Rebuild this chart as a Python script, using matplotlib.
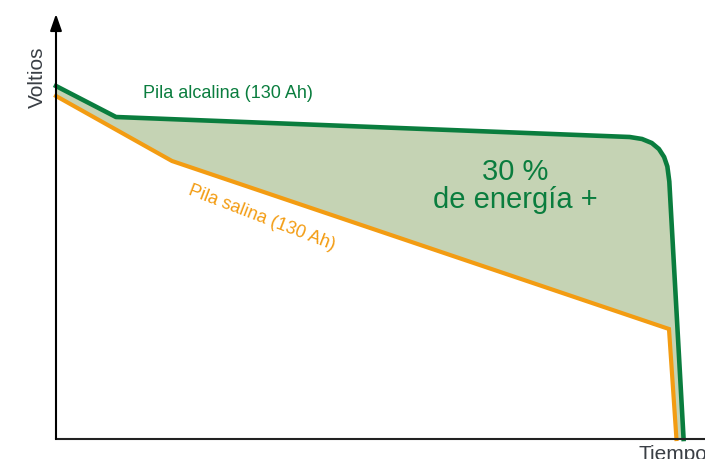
import matplotlib
matplotlib.use("Agg")
import matplotlib.pyplot as plt

# Data (time in arbitrary units, voltage in arbitrary units)
alk_t = [0.0, 9.24, 88.4, 90.3, 91.8, 92.9, 93.7, 94.2, 94.5, 96.7]
alk_v = [1.412, 1.288, 1.208, 1.200, 1.184, 1.160, 1.128, 1.090, 1.030, 0.0]
sal_t = [0.0, 17.87, 94.45, 95.6]
sal_v = [1.372, 1.112, 0.44, 0.0]

GREEN = "#0a7d3e"
ORANGE = "#f39c12"
FILL = "#c5d3b4"
FONT = ["Liberation Sans", "DejaVu Sans"]

fig = plt.figure(figsize=(7.05, 4.6), dpi=100)
ax = fig.add_axes([0, 0, 1, 1])
ax.set_xlim(-56 / 6.49, 649 / 6.49)
ax.set_ylim(-20 / 250, 440 / 250)
ax.axis("off")

# filled area between curves
poly_t = alk_t + sal_t[::-1]
poly_v = alk_v + sal_v[::-1]
ax.fill(poly_t, poly_v, color=FILL, lw=0, zorder=1)

ax.plot(sal_t, sal_v, color=ORANGE, lw=3, solid_joinstyle="miter", zorder=3)
ax.plot(alk_t, alk_v, color=GREEN, lw=3.3, solid_joinstyle="round", zorder=4)

# axes
ax.plot([0, 110], [0, 0], color="#222222", lw=1.5, zorder=5, clip_on=False)
ax.annotate("", xy=(0, 1.70), xytext=(0, 0),
            arrowprops=dict(arrowstyle="-|>,head_width=0.35,head_length=1.0",
                            color="black", lw=1.5, shrinkA=0, shrinkB=0), zorder=5)

ax.text(-2.9, 1.45, "Voltios", rotation=90, ha="center", va="center",
        fontsize=15, color="#3a3f45", family=FONT)
ax.text(89.8, -0.058, "Tiempo", ha="left", va="center",
        fontsize=15, color="#3a3f45", family=FONT)

ax.text(13.4, 1.388, "Pila alcalina (130 Ah)", ha="left", va="center",
        fontsize=13, color=GREEN, family=FONT)
ax.text(31.7, 0.89, "Pila salina (130 Ah)", ha="center", va="center",
        rotation=-21, fontsize=13, color=ORANGE, family=FONT)

ax.text(70.8, 1.072, "30 %", ha="center", va="center",
        fontsize=21, color=GREEN, family=FONT)
ax.text(70.8, 0.962, "de energía +", ha="center", va="center",
        fontsize=21, color=GREEN, family=FONT)

fig.savefig("out.png", dpi=100)
